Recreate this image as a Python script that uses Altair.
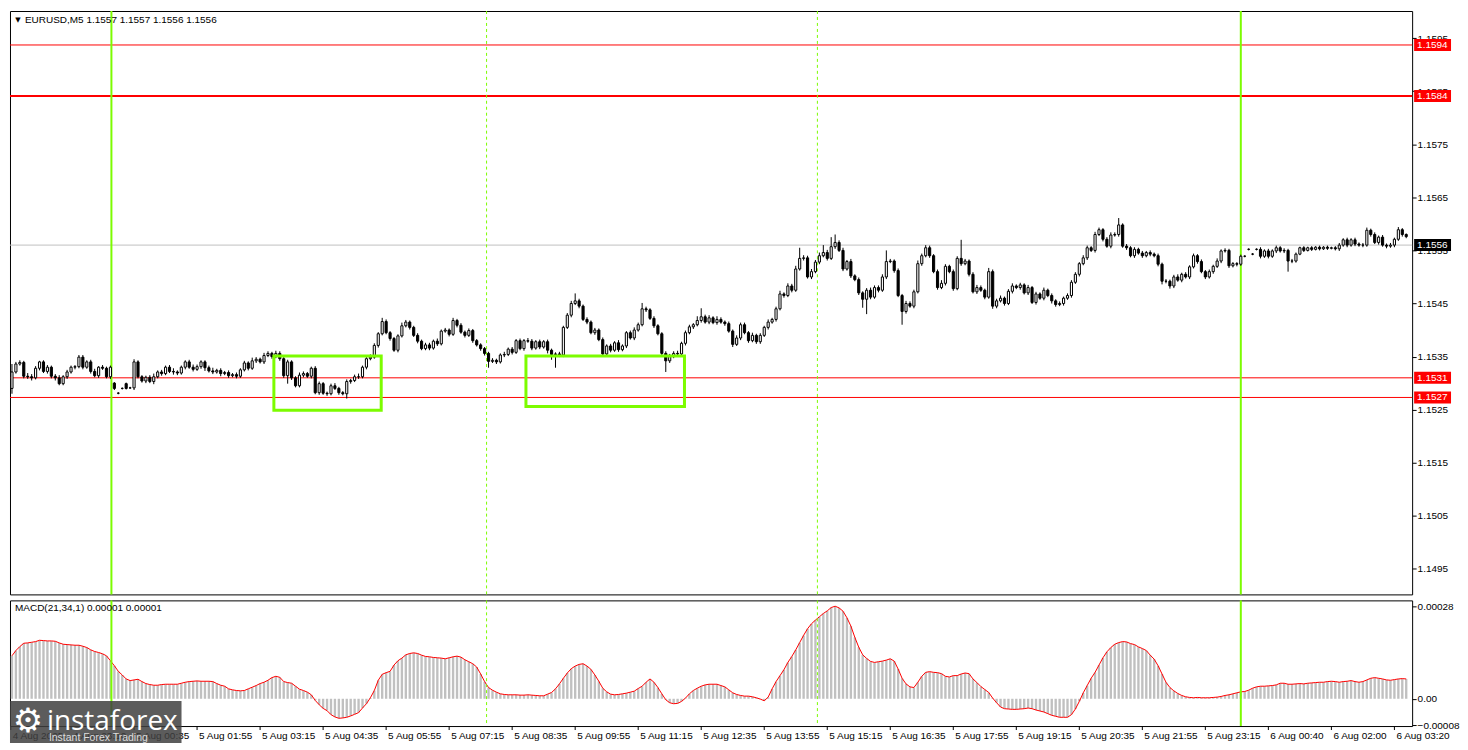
import altair as alt
import pandas as pd

# ---------------- data (prices in pips above 1.1500) ----------------
SYMBOL = "EURUSD,M5"
LAST_OHLC = ["1.1557", "1.1557", "1.1556", "1.1556"]
MACD_TITLE = "MACD(21,34,1)"
MACD_LAST = ["0.00001", "0.00001"]

BASE = 1.1500
PIP = 0.0001

closes = [
    32.1, 33.6, 33.9, 31.3, 31.2, 31.0, 32.8, 34.0, 32.2, 33.0,
    31.3, 31.0, 29.9, 31.2, 32.1, 33.0, 33.1, 34.9, 33.0, 34.0,
    32.2, 31.4, 33.0, 32.8, 31.2, 33.0, 29.0, 28.1, 29.0, 29.0,
    29.1, 34.0, 31.2, 30.4, 31.1, 30.3, 31.2, 32.1, 31.8, 33.0,
    32.2, 32.1, 31.9, 33.0, 34.0, 33.0, 32.6, 33.1, 34.0, 32.9,
    32.3, 32.1, 32.4, 31.8, 32.0, 31.4, 31.6, 31.3, 32.5, 33.8,
    32.8, 34.2, 34.5, 34.0, 35.2, 35.6, 35.0, 35.6, 34.6, 31.4,
    34.0, 31.0, 29.5, 31.5, 31.8, 31.3, 32.8, 28.2, 29.9, 28.1,
    28.0, 29.5, 29.0, 28.2, 28.0, 30.3, 30.5, 31.2, 31.2, 33.0,
    34.6, 34.9, 37.1, 39.3, 41.6, 39.5, 38.4, 36.2, 38.9, 40.8,
    41.5, 40.5, 39.0, 37.9, 36.5, 37.2, 36.6, 37.9, 37.4, 39.8,
    40.0, 39.2, 41.8, 40.9, 39.6, 39.0, 39.9, 38.0, 37.2, 36.5,
    35.6, 34.1, 34.3, 34.0, 35.3, 35.4, 36.4, 35.8, 38.0, 36.5,
    38.0, 37.9, 36.6, 37.8, 36.8, 37.8, 36.2, 35.4, 35.5, 35.3,
    40.5, 42.8, 45.0, 45.5, 44.5, 42.0, 41.5, 39.5, 40.0, 38.2,
    35.5, 37.0, 36.2, 37.6, 36.3, 37.0, 39.5, 38.5, 40.0, 41.0,
    44.0, 43.8, 42.2, 40.8, 39.3, 35.6, 34.2, 35.0, 35.6, 35.5,
    37.5, 39.5, 40.6, 41.0, 41.8, 42.5, 41.5, 42.3, 41.4, 42.0,
    41.5, 41.2, 39.8, 37.3, 38.5, 41.0, 39.5, 38.0, 39.0, 37.8,
    39.0, 40.5, 41.5, 42.0, 44.0, 46.8, 46.5, 48.3, 47.5, 51.5,
    53.5, 53.6, 50.0, 51.0, 52.8, 54.0, 54.6, 53.5, 55.7, 56.5,
    55.0, 51.5, 52.9, 50.2, 49.5, 47.0, 45.8, 47.5, 46.2, 48.0,
    47.5, 50.0, 52.9, 53.0, 51.2, 46.5, 43.5, 45.0, 44.5, 47.2,
    52.5, 54.0, 55.5, 54.0, 51.0, 48.0, 48.8, 52.0, 51.0, 47.8,
    53.5, 52.5, 53.0, 50.5, 47.2, 48.0, 47.5, 46.2, 51.0, 44.5,
    45.5, 46.0, 45.0, 47.3, 48.3, 48.0, 48.5, 47.0, 48.0, 45.2,
    46.8, 46.0, 47.5, 46.5, 45.5, 44.8, 45.0, 46.0, 46.5, 49.0,
    50.5, 52.5, 53.6, 55.5, 55.0, 58.0, 58.9, 57.1, 55.8, 57.9,
    58.0, 59.8, 55.8, 55.5, 54.0, 55.2, 54.5, 54.0, 54.6, 54.3,
    54.0, 52.4, 49.2, 49.2, 48.3, 50.0, 49.4, 50.5, 50.0, 51.9,
    54.0, 52.9, 51.0, 50.0, 51.0, 52.0, 53.0, 54.9, 55.0, 52.1,
    52.5, 52.4, 53.9, 53.9, 55.2, 54.3, 55.2, 53.9, 54.9, 53.9,
    54.9, 55.5, 54.9, 55.0, 53.0, 53.0, 54.3, 55.5, 55.0, 55.5,
    55.2, 55.6, 55.3, 55.6, 55.4, 55.5, 55.3, 56.0, 57.0, 56.0,
    57.0, 56.2, 56.0, 56.0, 58.8, 58.0, 56.5, 57.5, 56.0, 55.8,
    56.0, 57.1, 58.9, 58.0, 57.6,
]
first_open = 29.0
open_gaps = {26: 30.0, 27: 28.1, 28: 29.0, 29: 29.9, 30: 29.1,
             314: 55.2, 315: 54.3, 316: 55.2}

upper_wicks = [
    1.5, 0.4, 0.4, 0.3, 0.6, 0.5, 0.4, 0.2, 0.3, 0.4,
    0.3, 0.4, 0.5, 0.3, 0.4, 0.3, 0.3, 0.4, 0.4, 0.3,
    0.4, 0.5, 0.2, 0.4, 0.3, 0.3, 0.2, 0.2, 0.2, 0.2,
    0.2, 0.5, 0.3, 0.3, 0.3, 0.4, 0.6, 0.3, 0.4, 0.3,
    0.4, 0.6, 0.3, 0.3, 0.3, 0.4, 0.5, 0.4, 0.3, 0.3,
    0.4, 0.6, 0.3, 0.4, 0.3, 0.4, 0.3, 0.4, 0.3, 0.4,
    0.3, 0.6, 0.4, 0.3, 0.5, 0.4, 0.3, 0.5, 0.4, 0.3,
    0.4, 0.3, 0.3, 0.5, 0.4, 0.3, 0.3, 0.4, 0.4, 0.3,
    0.3, 0.4, 0.5, 0.3, 0.3, 0.4, 0.3, 0.4, 0.6, 0.3,
    0.3, 0.5, 0.4, 0.3, 0.7, 0.4, 0.3, 0.3, 0.3, 0.6,
    0.4, 0.3, 0.3, 0.4, 0.3, 0.4, 0.4, 0.3, 0.5, 0.3,
    0.4, 0.3, 0.5, 0.3, 0.4, 0.3, 0.4, 0.3, 0.3, 0.3,
    0.3, 0.3, 0.4, 0.3, 0.3, 0.5, 0.3, 0.4, 0.3, 0.4,
    0.3, 0.5, 0.4, 0.3, 0.4, 0.3, 0.4, 0.3, 0.3, 0.4,
    0.3, 0.4, 0.5, 1.4, 0.4, 0.3, 0.4, 0.3, 0.4, 0.3,
    0.4, 0.3, 0.4, 0.3, 0.5, 0.3, 0.3, 0.4, 0.5, 0.4,
    1.1, 0.4, 0.3, 0.4, 0.3, 0.3, 0.4, 0.5, 0.4, 0.5,
    0.3, 0.4, 0.4, 0.3, 0.8, 1.6, 0.4, 0.5, 0.3, 0.6,
    0.4, 0.3, 0.4, 0.3, 0.5, 0.4, 0.4, 0.3, 0.5, 0.3,
    0.4, 0.3, 0.5, 0.3, 0.4, 0.6, 0.3, 0.5, 0.4, 0.6,
    2.0, 0.5, 0.4, 0.5, 0.4, 0.6, 1.4, 0.5, 1.8, 1.5,
    0.4, 0.5, 0.3, 0.5, 0.3, 0.4, 0.3, 0.4, 0.5, 0.4,
    0.4, 0.5, 2.1, 0.4, 0.3, 0.4, 0.3, 0.5, 0.4, 0.4,
    0.6, 0.4, 0.5, 0.4, 0.3, 0.4, 0.6, 0.4, 0.3, 0.4,
    0.4, 3.5, 0.4, 0.3, 0.4, 0.5, 0.4, 0.3, 0.7, 0.4,
    0.4, 0.5, 0.3, 0.4, 0.5, 0.3, 0.4, 0.3, 0.5, 0.3,
    0.4, 0.3, 0.5, 0.3, 0.4, 0.3, 0.4, 0.3, 0.4, 0.4,
    0.4, 0.3, 0.5, 0.4, 0.3, 0.5, 0.4, 0.3, 0.4, 0.5,
    0.4, 1.3, 0.3, 0.4, 0.3, 0.4, 0.3, 0.4, 0.3, 0.4,
    0.3, 0.4, 0.3, 0.4, 0.3, 0.4, 0.5, 0.3, 0.4, 0.3,
    0.4, 0.3, 0.4, 0.3, 0.4, 0.3, 0.5, 0.3, 0.4, 0.3,
    0.3, 0.3, 0.3, 0.2, 0.2, 0.2, 0.2, 0.4, 0.3, 0.4,
    0.3, 0.4, 0.3, 0.4, 0.3, 0.4, 0.3, 0.2, 0.3, 0.2,
    0.3, 0.2, 0.3, 0.2, 0.3, 0.2, 0.3, 0.4, 0.3, 0.4,
    0.3, 0.4, 0.3, 0.4, 0.5, 0.3, 0.4, 0.3, 0.4, 0.3,
    0.4, 0.3, 0.5, 0.3, 0.2,
]
lower_wicks = [
    1.0, 0.3, 0.3, 0.4, 0.4, 0.5, 0.3, 0.4, 0.3, 0.4,
    0.4, 0.5, 0.3, 0.3, 0.4, 0.3, 0.4, 0.3, 0.4, 0.3,
    0.4, 0.3, 0.4, 0.3, 0.3, 0.4, 0.3, 0.2, 0.2, 0.2,
    0.2, 0.4, 0.3, 0.3, 0.4, 0.3, 0.5, 0.3, 0.4, 0.3,
    0.3, 0.5, 0.4, 0.3, 0.4, 0.3, 0.4, 0.3, 0.4, 0.6,
    0.3, 0.4, 0.3, 0.5, 0.3, 0.4, 0.3, 0.4, 0.3, 0.3,
    0.4, 0.3, 0.4, 0.3, 0.4, 0.3, 0.4, 0.3, 0.4, 0.4,
    1.5, 0.4, 0.3, 0.3, 0.4, 0.3, 0.4, 0.3, 0.4, 0.3,
    0.4, 0.3, 0.3, 0.4, 0.3, 0.9, 0.4, 0.3, 0.4, 0.3,
    0.4, 0.3, 0.3, 0.4, 0.3, 0.3, 0.4, 0.3, 0.4, 0.3,
    0.3, 0.4, 0.3, 0.4, 0.3, 0.3, 0.4, 0.3, 0.4, 0.3,
    0.3, 0.4, 0.3, 0.4, 0.3, 0.4, 0.3, 0.4, 0.3, 0.4,
    0.4, 1.2, 0.3, 0.4, 0.3, 0.4, 0.3, 0.4, 0.3, 0.3,
    0.4, 0.3, 0.4, 0.3, 0.4, 0.3, 0.6, 1.0, 2.5, 0.4,
    0.4, 0.3, 0.4, 0.3, 0.4, 0.3, 0.4, 0.3, 0.4, 0.3,
    0.4, 0.3, 0.4, 0.3, 0.4, 0.3, 0.4, 0.3, 0.4, 0.3,
    0.3, 0.4, 0.3, 0.4, 0.3, 0.4, 2.1, 0.4, 0.3, 0.4,
    0.3, 0.4, 0.3, 0.4, 0.3, 0.4, 0.3, 0.4, 0.3, 0.4,
    0.3, 0.4, 0.3, 0.5, 0.3, 0.4, 0.3, 0.4, 0.3, 0.4,
    0.4, 0.3, 0.4, 0.3, 0.4, 0.3, 0.4, 0.3, 0.4, 0.3,
    0.3, 0.4, 0.3, 0.4, 0.3, 0.4, 0.3, 0.4, 0.3, 0.4,
    0.3, 0.4, 0.3, 0.4, 0.3, 0.4, 1.6, 2.8, 0.4, 0.3,
    0.4, 0.3, 0.4, 0.3, 0.4, 0.3, 2.5, 0.4, 0.3, 0.4,
    0.3, 0.4, 0.3, 0.4, 0.3, 0.4, 0.3, 0.4, 0.3, 0.4,
    0.3, 0.4, 0.3, 0.4, 0.3, 0.4, 0.3, 0.4, 0.3, 0.5,
    0.4, 0.3, 0.4, 0.3, 0.4, 0.3, 0.4, 0.3, 0.4, 0.3,
    0.4, 0.3, 0.4, 0.3, 0.5, 0.4, 0.3, 0.4, 0.3, 0.4,
    0.3, 0.4, 0.3, 0.4, 0.3, 0.4, 0.3, 0.4, 0.3, 0.4,
    0.3, 0.4, 0.3, 0.4, 0.3, 0.4, 0.3, 0.4, 0.3, 0.4,
    0.3, 0.4, 0.6, 0.4, 0.5, 0.4, 0.3, 0.4, 0.3, 0.4,
    0.3, 0.4, 0.3, 0.4, 0.3, 0.4, 0.3, 0.4, 0.3, 0.4,
    0.3, 0.4, 0.3, 0.2, 0.2, 0.2, 0.2, 0.4, 0.3, 0.4,
    0.3, 0.4, 0.3, 0.4, 2.0, 0.4, 0.3, 0.2, 0.3, 0.2,
    0.3, 0.2, 0.3, 0.2, 0.3, 0.2, 0.3, 0.4, 0.3, 0.4,
    0.3, 0.4, 0.3, 0.4, 0.3, 0.4, 0.3, 0.4, 0.3, 0.4,
    0.3, 0.4, 0.3, 0.4, 0.3,
]
# MACD main value, in units of 0.00001
macd_e5 = [
    13.0, 14.6, 15.8, 16.8, 16.9, 17.1, 17.3, 17.7, 17.6, 17.5,
    17.5, 17.4, 16.9, 16.5, 16.4, 16.3, 16.2, 16.2, 15.9, 15.5,
    14.8, 14.3, 14.0, 13.6, 13.0, 11.5, 10.0, 8.3, 7.2, 6.0,
    5.5, 5.7, 5.9, 5.2, 4.6, 4.3, 4.1, 4.1, 4.3, 4.4,
    4.4, 4.4, 4.4, 4.7, 5.0, 5.2, 5.3, 5.4, 5.3, 5.3,
    5.3, 5.2, 4.6, 4.1, 3.8, 3.0, 2.7, 2.5, 2.4, 2.5,
    3.0, 3.5, 4.0, 4.6, 5.0, 5.6, 6.4, 6.8, 6.5, 5.2,
    4.9, 4.7, 3.8, 2.9, 2.5, 2.0, 1.2, -0.5, -1.8, -2.9,
    -3.6, -4.8, -5.5, -5.9, -5.8, -5.6, -5.2, -4.7, -4.2, -2.8,
    -1.5, 0.3, 2.5, 5.6, 7.4, 7.9, 8.3, 10.2, 11.5, 12.3,
    13.3, 13.7, 13.9, 13.7, 13.2, 12.8, 12.7, 12.5, 12.4, 12.3,
    12.1, 12.4, 12.7, 12.9, 12.6, 11.8, 11.2, 10.6, 9.6, 7.5,
    5.2, 3.4, 2.6, 2.0, 1.5, 1.3, 1.2, 1.2, 1.2, 1.1,
    1.1, 1.2, 1.1, 1.0, 0.9, 0.9, 1.4, 1.9, 3.0, 4.5,
    6.2, 7.8, 9.1, 9.9, 10.4, 10.6, 9.9, 8.9, 7.2, 5.3,
    3.2, 2.1, 1.4, 1.2, 1.3, 1.5, 1.7, 2.0, 2.3, 3.1,
    3.8, 5.0, 6.0, 5.0, 3.4, 1.5, -0.3, -1.2, -1.5, -1.4,
    -0.8, 0.2, 1.5, 2.5, 3.2, 3.8, 4.2, 4.4, 4.4, 4.4,
    4.0, 3.6, 2.7, 1.8, 1.3, 1.0, 0.8, 0.8, 0.6, 0.3,
    -0.1, -0.6, 0.5, 3.0, 5.2, 7.0, 8.8, 11.0, 12.8, 14.8,
    17.0, 19.2, 21.2, 22.7, 23.8, 24.8, 25.8, 26.6, 27.6, 28.0,
    27.5, 26.5, 24.5, 22.0, 18.6, 15.6, 13.3, 12.2, 11.3, 11.0,
    11.2, 11.4, 11.7, 12.1, 11.4, 9.0, 6.2, 4.5, 3.6, 3.4,
    5.0, 6.8, 8.0, 8.2, 8.0, 7.9, 7.6, 6.8, 6.6, 7.0,
    7.0, 7.5, 7.8, 7.6, 6.0, 4.9, 3.7, 2.8, 1.9, 0.2,
    -1.2, -2.5, -3.0, -3.1, -3.2, -3.2, -3.1, -3.0, -2.8, -3.0,
    -3.4, -3.7, -4.0, -4.5, -5.0, -5.3, -5.6, -5.6, -5.6, -4.8,
    -3.1, -0.8, 1.8, 4.0, 6.2, 8.0, 10.2, 12.4, 14.2, 15.5,
    16.5, 17.0, 17.3, 17.2, 16.7, 16.4, 15.7, 15.2, 14.6, 13.2,
    12.0, 10.0, 7.5, 5.0, 3.4, 2.4, 1.6, 1.0, 0.6, 0.4,
    0.3, 0.4, 0.3, 0.3, 0.3, 0.4, 0.5, 0.7, 1.0, 1.2,
    1.5, 1.8, 2.1, 2.2, 2.6, 3.2, 3.6, 3.8, 3.8, 3.9,
    4.0, 4.2, 4.7, 4.7, 4.4, 4.4, 4.5, 4.6, 4.5, 4.7,
    4.8, 4.9, 5.0, 5.0, 5.2, 5.3, 5.2, 5.0, 5.2, 5.3,
    5.5, 5.2, 5.0, 5.2, 5.7, 6.2, 6.4, 6.2, 6.0, 5.7,
    5.6, 5.8, 6.0, 6.1, 6.0,
]

price_ticks = [1.1495, 1.1505, 1.1515, 1.1525, 1.1535, 1.1545,
               1.1555, 1.1565, 1.1575, 1.1585, 1.1595]
macd_ticks = [0.00028, 0.0, -0.00008]

red_levels_thin = [1.15937, 1.15310, 1.15273]
red_levels_thick = [1.15841]
bid_price = 1.15560

vline_solid_bars = [25.25, 312]
vline_dash_bars = [120.5, 204.5]

box_bar_start = [66.5, 130.5]
box_bar_end = [93.75, 170.75]
box_top = [35.1, 35.1]
box_bottom = [24.9, 25.6]

time_labels = ["4 Aug 2025", "4 Aug 23:10", "5 Aug 00:35", "5 Aug 01:55",
               "5 Aug 03:15", "5 Aug 04:35", "5 Aug 05:55", "5 Aug 07:15",
               "5 Aug 08:35", "5 Aug 09:55", "5 Aug 11:15", "5 Aug 12:35",
               "5 Aug 13:55", "5 Aug 15:15", "5 Aug 16:35", "5 Aug 17:55",
               "5 Aug 19:15", "5 Aug 20:35", "5 Aug 21:55", "5 Aug 23:15",
               "6 Aug 00:40", "6 Aug 02:00", "6 Aug 03:20"]
time_label_bars = [-0.3, 15, 31, 47, 63, 79, 95, 111, 127, 143, 159, 175,
                   191, 207, 223, 239, 255, 271, 287, 303, 319, 335, 351]

BRAND = "instaforex"
SLOGAN = "Instant Forex Trading"

# ---------------- build tables ----------------
lens = [len(closes), len(upper_wicks), len(lower_wicks), len(macd_e5)]
if len(set(lens)) != 1:
    raise ValueError("length mismatch: %s" % lens)
n = len(closes)
opens = [first_open] + closes[:-1]
for k, v in open_gaps.items():
    opens[k] = v
rows = []
for i in range(n):
    o, c = opens[i], closes[i]
    rows.append({
        "bar": i,
        "open": BASE + o * PIP,
        "close": BASE + c * PIP,
        "high": BASE + (max(o, c) + upper_wicks[i]) * PIP,
        "low": BASE + (min(o, c) - lower_wicks[i]) * PIP,
        "dir": "up" if c >= o else "down",
    })
candles = pd.DataFrame(rows)
macd_df = pd.DataFrame({"bar": list(range(n)), "macd": [v * 1e-5 for v in macd_e5]})

thin_df = pd.DataFrame({"price": red_levels_thin})
thick_df = pd.DataFrame({"price": red_levels_thick})
lab_df = pd.DataFrame({"price": red_levels_thin + red_levels_thick})
lab_df["label"] = [f"{p:.4f}" for p in lab_df["price"]]
bid_df = pd.DataFrame({"price": [bid_price], "label": [f"{bid_price:.4f}"]})
vs_df = pd.DataFrame({"bar": vline_solid_bars})
vd_df = pd.DataFrame({"bar": vline_dash_bars})
box_df = pd.DataFrame({"b0": box_bar_start, "b1": box_bar_end,
                       "top": [BASE + p * PIP for p in box_top],
                       "bottom": [BASE + p * PIP for p in box_bottom]})
tl_df = pd.DataFrame({"bar": time_label_bars, "label": time_labels})
hdr_df = pd.DataFrame({"t": [SYMBOL + "  " + " ".join(LAST_OHLC)]})
mhdr_df = pd.DataFrame({"t": [MACD_TITLE + " " + " ".join(MACD_LAST)]})
wm_df = pd.DataFrame({"brand": [BRAND], "slogan": [SLOGAN]})

# ---------------- chart ----------------
FONT = "Liberation Sans"
W, HM, HD = 1406, 585, 126
GREEN = "#7CFC00"
xs = alt.Scale(domain=[-0.5, 355.5], nice=False, zero=False)
ys = alt.Scale(domain=[1.14902, 1.16001], nice=False, zero=False)
ms = alt.Scale(domain=[-0.0000825, 0.0002977], nice=False, zero=False)

YAX = alt.Axis(orient="right", values=price_ticks, format=".4f", tickSize=4,
               tickColor="black", labelPadding=1, labelFont=FONT,
               labelFontSize=10, labelColor="black", domain=False, grid=False,
               title=None, labelOverlap=False)
MAX = alt.Axis(orient="right", values=macd_ticks,
               labelExpr="datum.value == 0 ? '0.00' : format(datum.value, '.5f')",
               tickSize=4, tickColor="black", labelPadding=1, labelFont=FONT,
               labelFontSize=10, labelColor="black", domain=False, grid=False,
               title=None, labelOverlap=False)


def XB(field):
    return alt.X(field, type="quantitative", scale=xs, axis=None)


def YP(field):
    return alt.Y(field, type="quantitative", scale=ys, axis=YAX)


def YM(field):
    return alt.Y(field, type="quantitative", scale=ms, axis=MAX)


thin = alt.Chart(thin_df).mark_rule(color="#FF0000", strokeWidth=1).encode(y=YP("price"))
thick = alt.Chart(thick_df).mark_rule(color="#FF0000", strokeWidth=2).encode(y=YP("price"))
bid = alt.Chart(bid_df).mark_rule(color="#C0C0C0", strokeWidth=1).encode(y=YP("price"))
vsolid = alt.Chart(vs_df).mark_rule(color=GREEN, strokeWidth=2).encode(x=XB("bar"))
vdash = alt.Chart(vd_df).mark_rule(color=GREEN, strokeWidth=1, strokeDash=[3, 3]).encode(x=XB("bar"))

wicks = alt.Chart(candles).mark_rule(color="black", strokeWidth=1).encode(
    x=XB("bar"), y=YP("low"), y2="high")
bodies = alt.Chart(candles).transform_calculate(
    b0="datum.bar - 0.27", b1="datum.bar + 0.27"
).mark_rect(stroke="black", strokeWidth=1).encode(
    x=XB("b0"), x2="b1", y=YP("open"), y2="close",
    fill=alt.Fill("dir:N", scale=alt.Scale(domain=["up", "down"], range=["white", "black"]),
                  legend=None))
boxes = alt.Chart(box_df).mark_rect(fillOpacity=0, stroke=GREEN, strokeWidth=3).encode(
    x=XB("b0"), x2="b1", y=YP("top"), y2="bottom")

lab_box = alt.Chart(lab_df).mark_tick(orient="horizontal", color="#FF0000", size=37,
                                      thickness=12, opacity=1).encode(
    x=alt.value(W + 20.5), y=YP("price"))
lab_txt = alt.Chart(lab_df).mark_text(align="left", baseline="middle", color="white",
                                      font=FONT, fontSize=10).encode(
    x=alt.value(W + 5), y=YP("price"), text="label:N")
bid_box = alt.Chart(bid_df).mark_tick(orient="horizontal", color="black", size=37,
                                      thickness=12, opacity=1).encode(
    x=alt.value(W + 20.5), y=YP("price"))
bid_txt = alt.Chart(bid_df).mark_text(align="left", baseline="middle", color="white",
                                      font=FONT, fontSize=10).encode(
    x=alt.value(W + 5), y=YP("price"), text="label:N")

tri = alt.Chart(hdr_df).mark_text(text="▼", font="DejaVu Sans", fontSize=7,
                                  color="black", align="center", baseline="middle").encode(
    x=alt.value(8), y=alt.value(9))
hdr = alt.Chart(hdr_df).mark_text(align="left", baseline="middle", font=FONT,
                                  fontSize=10, color="black").encode(
    x=alt.value(15), y=alt.value(9), text="t:N")

main = alt.layer(thin, thick, bid, vsolid, vdash, wicks, bodies, boxes,
                 lab_box, lab_txt, bid_box, bid_txt, tri, hdr).properties(width=W, height=HM)

hist = alt.Chart(macd_df).transform_calculate(
    b0="datum.bar - 0.3", b1="datum.bar + 0.3", zero="0"
).mark_rect(color="#C0C0C0").encode(x=XB("b0"), x2="b1", y=YM("macd"), y2="zero:Q")
mline = alt.Chart(macd_df).mark_line(color="#FF0000", strokeWidth=1).encode(
    x=XB("bar"), y=YM("macd"))
mvsolid = alt.Chart(vs_df).mark_rule(color=GREEN, strokeWidth=2).encode(x=XB("bar"))
mvdash = alt.Chart(vd_df).mark_rule(color=GREEN, strokeWidth=1, strokeDash=[3, 3]).encode(x=XB("bar"))
mhdr = alt.Chart(mhdr_df).mark_text(align="left", baseline="middle", font=FONT,
                                    fontSize=10, color="black").encode(
    x=alt.value(5), y=alt.value(8), text="t:N")
tticks = alt.Chart(tl_df).mark_rule(color="black", strokeWidth=1).encode(
    x=XB("bar"), y=alt.value(HD), y2=alt.value(HD + 4))
ttext = alt.Chart(tl_df).mark_text(align="left", baseline="middle", font=FONT,
                                   fontSize=10, color="black", dx=2).encode(
    x=XB("bar"), y=alt.value(HD + 10), text="label:N")

wm_box = alt.Chart(wm_df).mark_rect(color="#404040", opacity=0.85).encode(
    x=alt.value(0), x2=alt.value(172), y=alt.value(HD - 25), y2=alt.value(HD + 17))
wm_icon = alt.Chart(wm_df).mark_text(text="⚙", font="DejaVu Sans", fontSize=34,
                                     color="white", align="center", baseline="middle").encode(
    x=alt.value(18), y=alt.value(HD - 4))
wm_brand = alt.Chart(wm_df).mark_text(align="left", baseline="alphabetic", font="Open Sans",
                                      fontSize=28, color="white").encode(
    x=alt.value(37), y=alt.value(HD + 4), text="brand:N")
wm_slogan = alt.Chart(wm_df).mark_text(align="left", baseline="alphabetic", font=FONT,
                                       fontSize=10.5, color="#dddddd").encode(
    x=alt.value(39), y=alt.value(HD + 15), text="slogan:N")

macd = alt.layer(hist, mline, mvsolid, mvdash, mhdr, tticks, ttext,
                 wm_box, wm_icon, wm_brand, wm_slogan).properties(width=W, height=HD)

chart = alt.vconcat(main, macd, spacing=2).properties(
    padding=0, background="white"
).configure_view(stroke="black", strokeWidth=1)

chart.save("out.html", embed_options={"renderer": "svg", "actions": False})
